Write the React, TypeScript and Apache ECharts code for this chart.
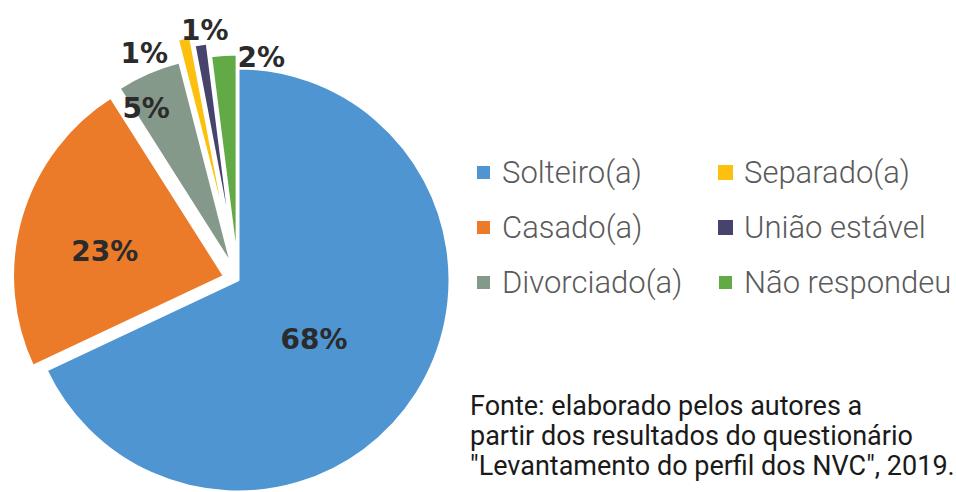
import React, { useEffect, useRef } from 'react';
import * as echarts from 'echarts';

const categories = ['Solteiro(a)', 'Casado(a)', 'Divorciado(a)', 'Separado(a)', 'União estável', 'Não respondeu'];
const values = [68, 23, 5, 1, 1, 2];
const colors = ['#4f95d2', '#ec7b29', '#85998b', '#fdc00f', '#46436d', '#62aa45'];
const legendColumn1 = ['Solteiro(a)', 'Casado(a)', 'Divorciado(a)'];
const legendColumn2 = ['Separado(a)', 'União estável', 'Não respondeu'];
const sourceLines = [
  'Fonte: elaborado pelos autores a',
  'partir dos resultados do questionário',
  '"Levantamento do perfil dos NVC", 2019.',
];

// styling: groups of slices pulled out by a given offset (px), and label nudges (px)
const explodeGroups = [
  { visible: [0, 1, 2, 5], selected: [1, 2, 5], offset: 14 },
  { visible: [3], selected: [3], offset: 36 },
  { visible: [4], selected: [4], offset: 27 },
];
const labelShift: number[][] = [
  [-16, 1],
  [-15, 6],
  [-43, -59],
  [-62, -85],
  [-12, -115],
  [31, -100],
];

const FONT = 'Roboto, "Noto Sans", sans-serif';

export default function App() {
  const ref = useRef<HTMLDivElement>(null);
  useEffect(() => {
    if (!ref.current) return;
    const chart = echarts.init(ref.current, null, { renderer: 'svg' });

    const labelBase = {
      show: true,
      position: 'inside',
      formatter: '{c}%',
      fontFamily: '"DejaVu Sans", sans-serif',
      fontWeight: 'bold',
      fontSize: 28,
      color: '#2b2b2b',
    };

    const makeSeries = (visible: number[], selectedIdx: number[], offset: number) => ({
      type: 'pie',
      center: [238, 280],
      radius: 212,
      startAngle: 90,
      clockwise: true,
      selectedMode: 'multiple',
      selectedOffset: offset,
      avoidLabelOverlap: false,
      silent: true,
      emphasis: { disabled: true },
      itemStyle: { borderColor: '#ffffff', borderWidth: 3 },
      label: labelBase,
      labelLine: { show: false },
      labelLayout: (p: any) => ({ dx: labelShift[p.dataIndex][0], dy: labelShift[p.dataIndex][1] }),
      data: categories.map((name, i) => {
        const vis = visible.includes(i);
        return {
          name,
          value: values[i],
          selected: selectedIdx.includes(i),
          itemStyle: vis
            ? { color: colors[i] }
            : { color: 'rgba(0,0,0,0)', borderWidth: 0 },
          label: { show: vis },
        };
      }),
    });

    const legendItem = (name: string) => ({
      name,
      itemStyle: { color: colors[categories.indexOf(name)] },
    });

    const legendBase = {
      orient: 'vertical',
      top: 157,
      itemWidth: 15,
      itemHeight: 15,
      itemGap: 24,
      icon: 'rect',
      selectedMode: false,
      padding: 0,
      textStyle: {
        fontFamily: FONT,
        fontWeight: 300,
        fontSize: 31,
        lineHeight: 30,
        color: '#5a5a5a',
        padding: [0, 0, 0, 6],
      },
    };

    chart.setOption({
      animation: false,
      title: {
        text: sourceLines.join('\n'),
        left: 470,
        top: 391,
        padding: 0,
        textStyle: {
          fontFamily: FONT,
          fontWeight: 'normal',
          fontSize: 27,
          lineHeight: 30,
          color: '#1a1a1a',
        },
      },
      legend: [
        { ...legendBase, left: 475, data: legendColumn1.map(legendItem) },
        { ...legendBase, left: 717, data: legendColumn2.map(legendItem) },
      ],
      series: explodeGroups.map((g) => makeSeries(g.visible, g.selected, g.offset)),
    });
    return () => chart.dispose();
  }, []);
  return (
    <div
      ref={ref}
      style={{ position: 'absolute', left: 0, top: 0, width: 956, height: 492 }}
    />
  );
}
